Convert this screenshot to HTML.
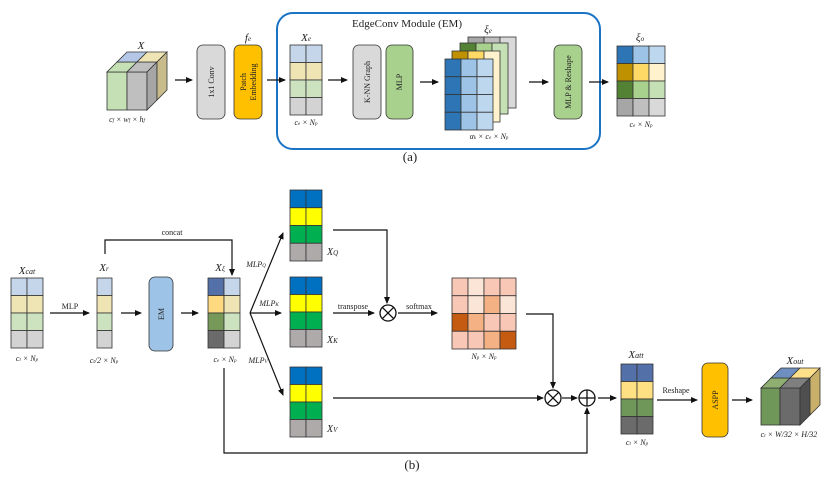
<!DOCTYPE html>
<html><head><meta charset="utf-8"><style>
html,body{margin:0;padding:0;background:#fff}
svg{display:block}
text{font-family:"Liberation Serif","DejaVu Serif",serif;fill:#222}
.s{font-size:8px}
.m{font-size:9px}
.it{font-style:italic}
</style></head><body>
<svg width="830" height="484" viewBox="0 0 830 484" xmlns="http://www.w3.org/2000/svg">
<defs>
<marker id="a" markerWidth="8" markerHeight="8" refX="6" refY="3" orient="auto" markerUnits="userSpaceOnUse"><path d="M0,0 L7,3 L0,6 z" fill="#111"/></marker>
</defs>
<g stroke="#333" stroke-width="0.8">
<rect x="107" y="72" width="20" height="38" fill="#c5e0b4"/>
<rect x="127" y="72" width="20" height="38" fill="#bfbfbf"/>
<polygon points="107,72 127,72 137,62 117,62" fill="#c5e0b4"/>
<polygon points="127,72 147,72 157,62 137,62" fill="#bfbfbf"/>
<polygon points="117,62 137,62 147,52 127,52" fill="#b4c7e7"/>
<polygon points="137,62 157,62 167,52 147,52" fill="#efe4b4"/>
<polygon points="147,72 157,62 157,100 147,110" fill="#a6a6a6"/>
<polygon points="157,62 167,52 167,90 157,100" fill="#c9bc8c"/>
<rect x="197" y="45" width="28" height="74" rx="6" fill="#d9d9d9"/>
<rect x="234" y="45" width="28" height="74" rx="6" fill="#ffc000"/>
<rect x="353" y="45" width="28" height="74" rx="6" fill="#d9d9d9"/>
<rect x="386" y="45" width="27" height="74" rx="6" fill="#a9d18e"/>
<rect x="554" y="45" width="28" height="74" rx="6" fill="#a9d18e"/>
</g>
<rect x="277" y="13" width="323" height="136" rx="16" fill="none" stroke="#1a73c4" stroke-width="2"/>
<g stroke="#333" stroke-width="0.8">
<rect x="290" y="45" width="16" height="17.5" fill="#c5d5ea"/><rect x="306" y="45" width="16" height="17.5" fill="#c5d5ea"/>
<rect x="290" y="62.5" width="16" height="17.5" fill="#efe4b4"/><rect x="306" y="62.5" width="16" height="17.5" fill="#efe4b4"/>
<rect x="290" y="80" width="16" height="17.5" fill="#cde3c0"/><rect x="306" y="80" width="16" height="17.5" fill="#cde3c0"/>
<rect x="290" y="97.5" width="16" height="17.5" fill="#d3d3d3"/><rect x="306" y="97.5" width="16" height="17.5" fill="#d3d3d3"/>
<g><rect x="468" y="37" width="16" height="71" fill="#a6a6a6"/><rect x="484" y="37" width="16" height="71" fill="#bfbfbf"/><rect x="500" y="37" width="16" height="71" fill="#d9d9d9"/></g>
<g><rect x="460" y="43" width="16" height="71" fill="#548235"/><rect x="476" y="43" width="16" height="71" fill="#a9d18e"/><rect x="492" y="43" width="16" height="71" fill="#c5e0b4"/></g>
<g><rect x="452" y="51" width="16" height="71" fill="#bf9000"/><rect x="468" y="51" width="16" height="71" fill="#ffd966"/><rect x="484" y="51" width="16" height="71" fill="#fff2cc"/></g>
<g>
<rect x="445" y="59" width="16" height="17.75" fill="#2e75b6"/><rect x="461" y="59" width="16" height="17.75" fill="#9dc3e6"/><rect x="477" y="59" width="16" height="17.75" fill="#bdd7ee"/>
<rect x="445" y="76.75" width="16" height="17.75" fill="#2e75b6"/><rect x="461" y="76.75" width="16" height="17.75" fill="#9dc3e6"/><rect x="477" y="76.75" width="16" height="17.75" fill="#bdd7ee"/>
<rect x="445" y="94.5" width="16" height="17.75" fill="#2e75b6"/><rect x="461" y="94.5" width="16" height="17.75" fill="#9dc3e6"/><rect x="477" y="94.5" width="16" height="17.75" fill="#bdd7ee"/>
<rect x="445" y="112.25" width="16" height="17.75" fill="#2e75b6"/><rect x="461" y="112.25" width="16" height="17.75" fill="#9dc3e6"/><rect x="477" y="112.25" width="16" height="17.75" fill="#bdd7ee"/>
</g>
<rect x="617" y="46" width="16" height="17.5" fill="#2e75b6"/><rect x="633" y="46" width="16" height="17.5" fill="#9dc3e6"/><rect x="649" y="46" width="16" height="17.5" fill="#bdd7ee"/>
<rect x="617" y="63.5" width="16" height="17.5" fill="#bf9000"/><rect x="633" y="63.5" width="16" height="17.5" fill="#ffd966"/><rect x="649" y="63.5" width="16" height="17.5" fill="#fff2cc"/>
<rect x="617" y="81" width="16" height="17.5" fill="#548235"/><rect x="633" y="81" width="16" height="17.5" fill="#a9d18e"/><rect x="649" y="81" width="16" height="17.5" fill="#c5e0b4"/>
<rect x="617" y="98.5" width="16" height="17.5" fill="#a6a6a6"/><rect x="633" y="98.5" width="16" height="17.5" fill="#bfbfbf"/><rect x="649" y="98.5" width="16" height="17.5" fill="#d9d9d9"/>
</g>
<g stroke="#111" stroke-width="1.2" marker-end="url(#a)">
<line x1="175" y1="80" x2="192" y2="80"/>
<line x1="267" y1="80" x2="285" y2="80"/>
<line x1="328" y1="80" x2="347" y2="80"/>
<line x1="420" y1="82" x2="438" y2="82"/>
<line x1="529" y1="82" x2="548" y2="82"/>
<line x1="589" y1="82" x2="608" y2="82"/>
</g>
<text x="141" y="49" class="it" text-anchor="middle" font-size="11">X</text>
<text x="127" y="122" class="s it" text-anchor="middle">c<tspan font-size="5">f</tspan> × w<tspan font-size="5">f</tspan> × h<tspan font-size="5">f</tspan></text>
<text x="248" y="41" class="it" font-size="11" text-anchor="middle">f<tspan font-size="7">e</tspan></text>
<text transform="translate(214,82) rotate(-90)" class="s" text-anchor="middle">1x1 Conv</text>
<text transform="translate(246,82) rotate(-90)" class="s" text-anchor="middle">Patch</text>
<text transform="translate(256,82) rotate(-90)" class="s" text-anchor="middle">Embedding</text>
<text x="407" y="27" font-size="11" text-anchor="middle">EdgeConv Module (EM)</text>
<text x="306" y="41" class="it" font-size="11" text-anchor="middle">X<tspan font-size="7">e</tspan></text>
<text x="306" y="125" class="s it" text-anchor="middle">c<tspan font-size="5">e</tspan> × N<tspan font-size="5">p</tspan></text>
<text transform="translate(370,82) rotate(-90)" class="s" text-anchor="middle">K-NN Graph</text>
<text transform="translate(402,82) rotate(-90)" class="s" text-anchor="middle">MLP</text>
<text x="488" y="33" class="it" font-size="11" text-anchor="middle">ξ<tspan font-size="7">e</tspan></text>
<text x="489" y="139" class="s it" text-anchor="middle">α<tspan font-size="5">k</tspan> × c<tspan font-size="5">e</tspan> × N<tspan font-size="5">p</tspan></text>
<text transform="translate(571,82) rotate(-90)" class="s" text-anchor="middle">MLP &amp; Reshape</text>
<text x="640" y="41" class="it" font-size="11" text-anchor="middle">ξ<tspan font-size="7">o</tspan></text>
<text x="641" y="127" class="s it" text-anchor="middle">c<tspan font-size="5">e</tspan> × N<tspan font-size="5">p</tspan></text>
<text x="410" y="161" font-size="13" text-anchor="middle">(a)</text>

<g stroke="#333" stroke-width="0.8">
<rect x="11" y="278" width="16" height="17.5" fill="#c5d5ea"/><rect x="27" y="278" width="16" height="17.5" fill="#c5d5ea"/>
<rect x="11" y="295.5" width="16" height="17.5" fill="#efe4b4"/><rect x="27" y="295.5" width="16" height="17.5" fill="#efe4b4"/>
<rect x="11" y="313" width="16" height="17.5" fill="#cde3c0"/><rect x="27" y="313" width="16" height="17.5" fill="#cde3c0"/>
<rect x="11" y="330.5" width="16" height="17.5" fill="#d3d3d3"/><rect x="27" y="330.5" width="16" height="17.5" fill="#d3d3d3"/>
<rect x="97" y="278" width="15" height="17.5" fill="#c5d5ea"/>
<rect x="97" y="295.5" width="15" height="17.5" fill="#efe4b4"/>
<rect x="97" y="313" width="15" height="17.5" fill="#cde3c0"/>
<rect x="97" y="330.5" width="15" height="17.5" fill="#d3d3d3"/>
<rect x="149" y="277" width="24" height="74" rx="6" fill="#9dc3e6"/>
<rect x="208" y="278" width="16" height="17.5" fill="#5470a8"/><rect x="224" y="278" width="16" height="17.5" fill="#c5d5ea"/>
<rect x="208" y="295.5" width="16" height="17.5" fill="#ffd97f"/><rect x="224" y="295.5" width="16" height="17.5" fill="#efe4b4"/>
<rect x="208" y="313" width="16" height="17.5" fill="#76995a"/><rect x="224" y="313" width="16" height="17.5" fill="#cde3c0"/>
<rect x="208" y="330.5" width="16" height="17.5" fill="#6b6b6b"/><rect x="224" y="330.5" width="16" height="17.5" fill="#d3d3d3"/>
<rect x="290" y="190" width="16" height="17.75" fill="#0070c0"/><rect x="306" y="190" width="16" height="17.75" fill="#0070c0"/>
<rect x="290" y="207.75" width="16" height="17.75" fill="#ffff00"/><rect x="306" y="207.75" width="16" height="17.75" fill="#ffff00"/>
<rect x="290" y="225.5" width="16" height="17.75" fill="#00b050"/><rect x="306" y="225.5" width="16" height="17.75" fill="#00b050"/>
<rect x="290" y="243.25" width="16" height="17.75" fill="#aeaaaa"/><rect x="306" y="243.25" width="16" height="17.75" fill="#aeaaaa"/>
<rect x="290" y="277" width="16" height="17.5" fill="#0070c0"/><rect x="306" y="277" width="16" height="17.5" fill="#0070c0"/>
<rect x="290" y="294.5" width="16" height="17.5" fill="#ffff00"/><rect x="306" y="294.5" width="16" height="17.5" fill="#ffff00"/>
<rect x="290" y="312" width="16" height="17.5" fill="#00b050"/><rect x="306" y="312" width="16" height="17.5" fill="#00b050"/>
<rect x="290" y="329.5" width="16" height="17.5" fill="#aeaaaa"/><rect x="306" y="329.5" width="16" height="17.5" fill="#aeaaaa"/>
<rect x="290" y="367" width="16" height="17.5" fill="#0070c0"/><rect x="306" y="367" width="16" height="17.5" fill="#0070c0"/>
<rect x="290" y="384.5" width="16" height="17.5" fill="#ffff00"/><rect x="306" y="384.5" width="16" height="17.5" fill="#ffff00"/>
<rect x="290" y="402" width="16" height="17.5" fill="#00b050"/><rect x="306" y="402" width="16" height="17.5" fill="#00b050"/>
<rect x="290" y="419.5" width="16" height="17.5" fill="#aeaaaa"/><rect x="306" y="419.5" width="16" height="17.5" fill="#aeaaaa"/>
<rect x="452" y="278" width="16" height="17.75" fill="#f9c7b5"/><rect x="468" y="278" width="16" height="17.75" fill="#fbe5d6"/><rect x="484" y="278" width="16" height="17.75" fill="#f9c7b5"/><rect x="500" y="278" width="16" height="17.75" fill="#f9c7b5"/>
<rect x="452" y="295.75" width="16" height="17.75" fill="#f9c7b5"/><rect x="468" y="295.75" width="16" height="17.75" fill="#fbe5d6"/><rect x="484" y="295.75" width="16" height="17.75" fill="#f4b183"/><rect x="500" y="295.75" width="16" height="17.75" fill="#fbe5d6"/>
<rect x="452" y="313.5" width="16" height="17.75" fill="#c55a11"/><rect x="468" y="313.5" width="16" height="17.75" fill="#f4b183"/><rect x="484" y="313.5" width="16" height="17.75" fill="#f9c7b5"/><rect x="500" y="313.5" width="16" height="17.75" fill="#f9c7b5"/>
<rect x="452" y="331.25" width="16" height="17.75" fill="#f9c7b5"/><rect x="468" y="331.25" width="16" height="17.75" fill="#f9c7b5"/><rect x="484" y="331.25" width="16" height="17.75" fill="#f4b183"/><rect x="500" y="331.25" width="16" height="17.75" fill="#c55a11"/>
<rect x="621" y="364" width="16" height="17.5" fill="#5470a8"/><rect x="637" y="364" width="16" height="17.5" fill="#5470a8"/>
<rect x="621" y="381.5" width="16" height="17.5" fill="#ffe082"/><rect x="637" y="381.5" width="16" height="17.5" fill="#ffe082"/>
<rect x="621" y="399" width="16" height="17.5" fill="#70975a"/><rect x="637" y="399" width="16" height="17.5" fill="#70975a"/>
<rect x="621" y="416.5" width="16" height="17.5" fill="#6b6b6b"/><rect x="637" y="416.5" width="16" height="17.5" fill="#6b6b6b"/>
<rect x="702" y="363" width="26" height="74" rx="6" fill="#ffc000"/>
<rect x="761" y="388" width="19" height="37" fill="#70975a"/>
<rect x="780" y="388" width="20" height="37" fill="#6b6b6b"/>
<polygon points="761,388 780,388 790,378 771,378" fill="#8fae72"/>
<polygon points="780,388 800,388 810,378 790,378" fill="#7f7f7f"/>
<polygon points="771,378 790,378 800,368 781,368" fill="#6f8fc0"/>
<polygon points="790,378 810,378 820,368 800,368" fill="#ffe08a"/>
<polygon points="800,388 810,378 810,415 800,425" fill="#4f4f4f"/>
<polygon points="810,378 820,368 820,405 810,415" fill="#c9b06a"/>
</g>
<g fill="none" stroke="#111" stroke-width="1.3">
<circle cx="388" cy="313" r="8"/><line x1="382.3" y1="307.3" x2="393.7" y2="318.7"/><line x1="393.7" y1="307.3" x2="382.3" y2="318.7"/>
<circle cx="553" cy="398" r="8"/><line x1="547.3" y1="392.3" x2="558.7" y2="403.7"/><line x1="558.7" y1="392.3" x2="547.3" y2="403.7"/>
<circle cx="587" cy="398" r="8"/><line x1="579" y1="398" x2="595" y2="398"/><line x1="587" y1="390" x2="587" y2="406"/>
</g>
<g stroke="#111" stroke-width="1.2" fill="none">
<line x1="50" y1="313" x2="89" y2="313" marker-end="url(#a)"/>
<line x1="121" y1="313" x2="141" y2="313" marker-end="url(#a)"/>
<line x1="181" y1="313" x2="198" y2="313" marker-end="url(#a)"/>
<polyline points="105,254 105,240 232,240 232,275" marker-end="url(#a)"/>
<line x1="250" y1="313" x2="283" y2="233" marker-end="url(#a)"/>
<line x1="250" y1="313" x2="281" y2="313" marker-end="url(#a)"/>
<line x1="250" y1="313" x2="283" y2="395" marker-end="url(#a)"/>
<polyline points="333,230 387,230 387,303" marker-end="url(#a)"/>
<line x1="333" y1="313" x2="374" y2="313" marker-end="url(#a)"/>
<line x1="398" y1="313" x2="437" y2="313" marker-end="url(#a)"/>
<polyline points="526,314 553,314 553,388" marker-end="url(#a)"/>
<line x1="333" y1="398" x2="543" y2="398" marker-end="url(#a)"/>
<line x1="562" y1="398" x2="577" y2="398" marker-end="url(#a)"/>
<polyline points="224,368 224,453 587,453 587,408" marker-end="url(#a)"/>
<line x1="598" y1="398" x2="616" y2="398" marker-end="url(#a)"/>
<line x1="657" y1="400" x2="697" y2="400" marker-end="url(#a)"/>
<line x1="732" y1="400" x2="752" y2="400" marker-end="url(#a)"/>
</g>
<text x="27" y="274" class="it" font-size="11" text-anchor="middle">X<tspan font-size="8">cat</tspan></text>
<text x="27" y="361" class="s it" text-anchor="middle">c<tspan font-size="5">t</tspan> × N<tspan font-size="5">p</tspan></text>
<text x="70" y="309" class="s" text-anchor="middle">MLP</text>
<text x="104" y="271" class="it" font-size="11" text-anchor="middle">X<tspan font-size="7">r</tspan></text>
<text x="104" y="363" class="s it" text-anchor="middle">c<tspan font-size="5">t</tspan>/2 × N<tspan font-size="5">p</tspan></text>
<text transform="translate(164,314) rotate(-90)" class="s" text-anchor="middle">EM</text>
<text x="172" y="235" class="s" text-anchor="middle">concat</text>
<text x="220" y="271" class="it" font-size="11" text-anchor="middle">X<tspan font-size="7">ξ</tspan></text>
<text x="225" y="362" class="s it" text-anchor="middle">c<tspan font-size="5">e</tspan> × N<tspan font-size="5">p</tspan></text>
<text x="256" y="267" class="s it" text-anchor="middle">MLP<tspan font-size="5">Q</tspan></text>
<text x="269" y="306" class="s it" text-anchor="middle">MLP<tspan font-size="5">K</tspan></text>
<text x="258" y="363" class="s it" text-anchor="middle">MLP<tspan font-size="5">V</tspan></text>
<text x="327" y="255" class="it" font-size="10">X<tspan font-size="7">Q</tspan></text>
<text x="327" y="343" class="it" font-size="10">X<tspan font-size="7">K</tspan></text>
<text x="327" y="432" class="it" font-size="10">X<tspan font-size="7">V</tspan></text>
<text x="353" y="309" class="s" text-anchor="middle">transpose</text>
<text x="419" y="309" class="s" text-anchor="middle">softmax</text>
<text x="484" y="359" class="s it" text-anchor="middle">N<tspan font-size="5">p</tspan> × N<tspan font-size="5">p</tspan></text>
<text x="636" y="358" class="it" font-size="11" text-anchor="middle">X<tspan font-size="8">att</tspan></text>
<text x="637" y="445" class="s it" text-anchor="middle">c<tspan font-size="5">t</tspan> × N<tspan font-size="5">p</tspan></text>
<text x="676" y="393" class="s" text-anchor="middle">Reshape</text>
<text transform="translate(718,400) rotate(-90)" class="s" text-anchor="middle">ASPP</text>
<text x="795" y="364" class="it" font-size="11" text-anchor="middle">X<tspan font-size="8">out</tspan></text>
<text x="789" y="437" class="s it" text-anchor="middle">c<tspan font-size="5">t</tspan> × W/32 × H/32</text>
<text x="412" y="469" font-size="13" text-anchor="middle">(b)</text>
</svg>
</body></html>
